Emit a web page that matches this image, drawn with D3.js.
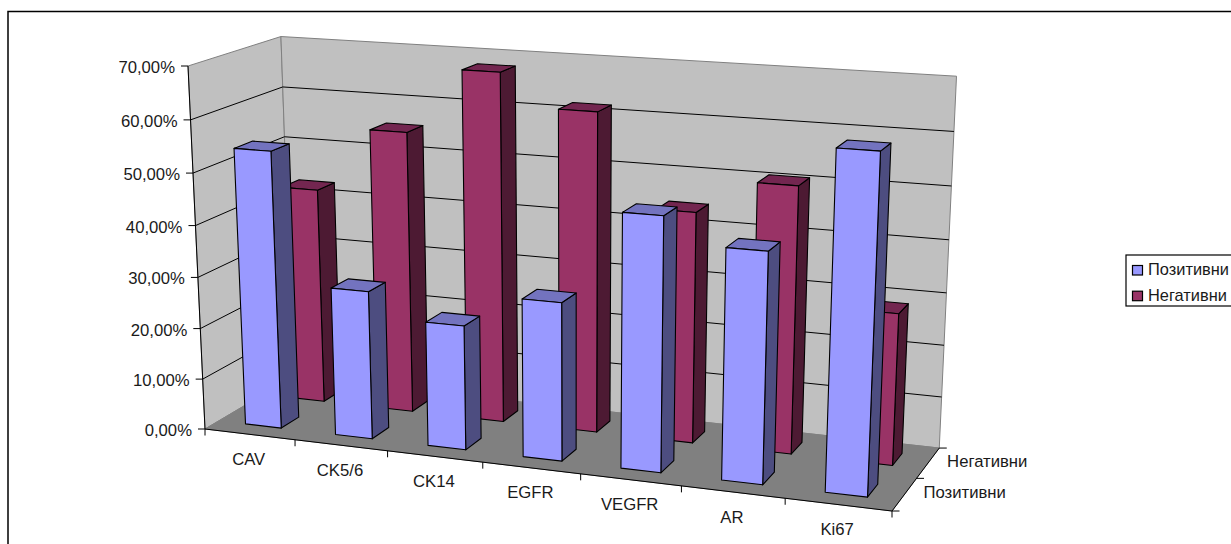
<!DOCTYPE html>
<html>
<head>
<meta charset="utf-8">
<script src="https://cdn.jsdelivr.net/npm/d3@7"></script>
<style>
  html, body { margin: 0; padding: 0; background: #fff; }
  svg { display: block; }
  text { font-family: "Liberation Sans", Arial, sans-serif; fill: #1a1a1a; }
</style>
</head>
<body>
<svg id="chart" width="1231" height="544"></svg>
<script>
// Receptor expression shares, in percent
const categories = ["CAV", "CK5/6", "CK14", "EGFR", "VEGFR", "AR", "Ki67"];
const seriesNames = ["Позитивни", "Негативни"];
const positive = [54.0, 28.8, 24.0, 30.2, 47.8, 43.0, 62.0];
const negative = [42.8, 55.4, 68.0, 61.8, 44.4, 50.8, 28.8];
const valueTicks = [0, 10, 20, 30, 40, 50, 60, 70];

const palette = {
  "Позитивни": { front: "#9999ff", top: "#7373bf", side: "#4d4d80" },
  "Негативни": { front: "#993366", top: "#732650", side: "#4d1a33" }
};

// Scales map the data onto a unit cube; gap width 150% on both floor axes
const xScale = d3.scaleBand().domain(categories).range([0, 1]).paddingInner(0.6).paddingOuter(0.3);
const zScale = d3.scaleBand().domain(seriesNames).range([0, 1]).paddingInner(0.6).paddingOuter(0.3);
const vScale = d3.scaleLinear().domain([0, 70]).range([0, 1]);

// Perspective camera: images of the origin and the three unit points, plus the depth terms
const cam = {
  o: [205, 429], x: [892, 511], v: [188, 66], z: [293, 377],
  gx: -0.095, gv: -0.044, gz: 0.07
};
function project(X, V, Z) {
  const w = 1 + cam.gx * X + cam.gv * V + cam.gz * Z;
  const coord = i =>
    (cam.o[i]
      + X * ((1 + cam.gx) * cam.x[i] - cam.o[i])
      + V * ((1 + cam.gv) * cam.v[i] - cam.o[i])
      + Z * ((1 + cam.gz) * cam.z[i] - cam.o[i])) / w;
  return [coord(0), coord(1)];
}

const svg = d3.select("#chart");
const poly = pts => "M" + pts.map(p => p.map(n => n.toFixed(2)).join(",")).join("L") + "Z";
const seg = (a, b) => "M" + a.map(n => n.toFixed(2)).join(",") + "L" + b.map(n => n.toFixed(2)).join(",");

// Outer chart frame runs off the page on the right and bottom
svg.append("rect").attr("x", 8).attr("y", 11.5).attr("width", 1260).attr("height", 600)
  .attr("fill", "#fff").attr("stroke", "#000").attr("stroke-width", 1.5);

// Walls and floor
const planes = svg.append("g");
planes.append("path").attr("d", poly([project(0,0,0), project(0,1,0), project(0,1,1), project(0,0,1)]))
  .attr("fill", "#c0c0c0").attr("stroke", "#808080");
planes.append("path").attr("d", poly([project(0,0,1), project(0,1,1), project(1,1,1), project(1,0,1)]))
  .attr("fill", "#c0c0c0").attr("stroke", "#808080");
planes.append("path").attr("d", poly([project(0,0,0), project(0,0,1), project(1,0,1), project(1,0,0)]))
  .attr("fill", "#808080").attr("stroke", "#808080");

// Gridlines along both walls
const grid = svg.append("g").attr("stroke", "#000").attr("fill", "none");
valueTicks.filter(t => t > 0 && t < 70).forEach(t => {
  const V = vScale(t);
  grid.append("path").attr("d", "M" + project(0, V, 0).join(",") + "L" + project(0, V, 1).join(",") + "L" + project(1, V, 1).join(","));
});

// Front and side axis lines with their tick marks
const axes = svg.append("g").attr("stroke", "#000").attr("fill", "none");
axes.append("path").attr("d", seg(project(0,0,0), project(0,1,0)));
axes.append("path").attr("d", seg(project(0,0,0), project(1,0,0)));
axes.append("path").attr("d", seg(project(1,0,0), project(1,0,1)));
valueTicks.forEach(t => {
  const p = project(0, vScale(t), 0);
  axes.append("path").attr("d", seg([p[0] - 7, p[1]], p));
});
d3.range(categories.length + 1).forEach(i => {
  const p = project(i / categories.length, 0, 0);
  axes.append("path").attr("d", seg(p, [p[0], p[1] + 6.5]));
});
d3.range(seriesNames.length + 1).forEach(i => {
  const p = project(1, 0, i / seriesNames.length);
  axes.append("path").attr("d", seg(p, [p[0] + 7.5, p[1]]));
});

// Bars: back series first, each one drawn side, top, then front
const valuesOf = { "Позитивни": positive, "Негативни": negative };
const barLayer = svg.append("g").attr("stroke", "#000").attr("stroke-width", 1.1).attr("stroke-linejoin", "round");
seriesNames.slice().reverse().forEach(name => {
  const z0 = zScale(name), z1 = z0 + zScale.bandwidth();
  const colours = palette[name];
  categories.forEach((cat, i) => {
    const x0 = xScale(cat), x1 = x0 + xScale.bandwidth();
    const V = vScale(valuesOf[name][i]);
    const g = barLayer.append("g");
    g.append("path").attr("fill", colours.side)
      .attr("d", poly([project(x1,0,z0), project(x1,V,z0), project(x1,V,z1), project(x1,0,z1)]));
    g.append("path").attr("fill", colours.top)
      .attr("d", poly([project(x0,V,z0), project(x1,V,z0), project(x1,V,z1), project(x0,V,z1)]));
    g.append("path").attr("fill", colours.front)
      .attr("d", poly([project(x0,0,z0), project(x0,V,z0), project(x1,V,z0), project(x1,0,z0)]));
  });
});

// Axis labels
const fontSize = 16.7;
const labels = svg.append("g").attr("font-size", fontSize);
const pct = d => d3.format(".2f")(d).replace(".", ",") + "%";
valueTicks.forEach(t => {
  const p = project(0, vScale(t), 0);
  labels.append("text").attr("x", p[0] - 13).attr("y", p[1] + 7).attr("text-anchor", "end").text(pct(t));
});
categories.forEach(cat => {
  const p = project(xScale(cat) + xScale.bandwidth() / 2, 0, 0);
  labels.append("text").attr("x", p[0] - 1).attr("y", p[1] + 30.5).attr("text-anchor", "middle").text(cat);
});
seriesNames.forEach(name => {
  const p = project(1, 0, zScale(name) + zScale.bandwidth() / 2);
  labels.append("text").attr("x", p[0] + 19).attr("y", p[1] + 4).text(name);
});

// Legend
const legend = svg.append("g");
legend.append("rect").attr("x", 1126).attr("y", 255).attr("width", 110).attr("height", 51)
  .attr("fill", "#fff").attr("stroke", "#000").attr("stroke-width", 1.2);
seriesNames.forEach((name, i) => {
  const y = 270 + i * 25.7;
  legend.append("rect").attr("x", 1132.5).attr("y", y - 4.5).attr("width", 10).attr("height", 9.5)
    .attr("fill", palette[name].front).attr("stroke", "#000").attr("stroke-width", 1.2);
  legend.append("text").attr("x", 1148).attr("y", y + 5).attr("font-size", 16.4).text(name);
});
</script>
</body>
</html>
